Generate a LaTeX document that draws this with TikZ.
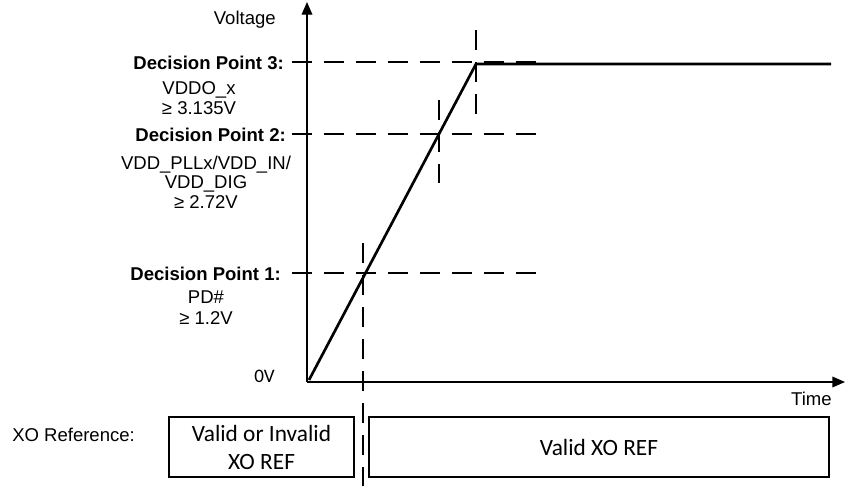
\documentclass[tikz,border=0pt]{standalone}
\usepackage{fontspec}
\setmainfont{Liberation Sans}
\newfontfamily\carlito{Carlito}
\usepackage{tikz}
\usetikzlibrary{arrows.meta}

\begin{document}
\begin{tikzpicture}[x=0.75pt,y=-0.75pt,line cap=butt,
	axis/.style={line width=1pt,-{Triangle[length=9.5pt,width=8pt]}},
	ramp/.style={line width=2pt,line join=miter},
	guide/.style={line width=2pt,dash pattern=on 15pt off 9pt},
	refbox/.style={draw,line width=1.5pt,minimum height=45pt,align=center,font=\carlito\fontsize{17.5pt}{21pt}\selectfont},
	dptitle/.style={anchor=east,inner sep=0pt,font=\bfseries\fontsize{13.9pt}{14pt}\selectfont},
	dptext/.style={align=center,inner sep=0pt,font=\fontsize{13.9pt}{14.6pt}\selectfont},
	plain/.style={inner sep=0pt,font=\fontsize{13.9pt}{14pt}\selectfont}]
	\useasboundingbox (0,0) rectangle (846,486);
	% axes
	\coordinate (o) at (307,382);
	\coordinate (vtop) at (307,2);
	\coordinate (tend) at (845,382);
	\draw[axis] (o) -- (vtop);
	\draw[axis] (o) -- (tend);
	\node[plain,anchor=base east] (volt) at (276,24) {Voltage};
	\node[plain,anchor=base east] (time) at (832,405) {Time};
	\node[plain,anchor=base east,font=\carlito\fontsize{14.3pt}{15pt}\selectfont] (zero) at (275,382) {0V};
	% supply ramp
	\coordinate (r0) at (309,380);
	\coordinate (r1) at (476,64);
	\coordinate (r2) at (831,64);
	\draw[ramp] (r0) -- (r1) -- (r2);
	% decision point guides
	\foreach \k/\y/\xv/\ya/\yb in {1/273/363/243/486,2/134/439/100/183,3/62/476/30/115} {
		\coordinate (hl\k) at (292,\y);
		\coordinate (hr\k) at (537,\y);
		\coordinate (vt\k) at (\xv,\ya);
		\coordinate (vb\k) at (\xv,\yb);
		\draw[guide] (hl\k) -- (hr\k);
		\draw[guide] (vt\k) -- (vb\k);
	}
	\node[dptitle] (dp3) at (284,63) {Decision Point 3:};
	\node[dptext] (dp3v) at (199,98) {VDDO\_x\\≥ 3.135V};
	\node[dptitle] (dp2) at (286,135) {Decision Point 2:};
	\node[dptext] (dp2v) at (206,182) {VDD\_PLLx/VDD\_IN/\\VDD\_DIG\\≥ 2.72V};
	\node[dptitle] (dp1) at (281,274) {Decision Point 1:};
	\node[dptext] (dp1v) at (206,308) {PD\#\\[1pt]≥ 1.2V};
	% reference clock state
	\node[plain,anchor=base west] (xoref) at (12,441) {XO Reference:};
	\node[refbox,minimum width=138.75pt] (xo1) at (261.5,447) {Valid or Invalid\\XO REF};
	\node[refbox,minimum width=345pt] (xo2) at (599,447) {Valid XO REF};
\end{tikzpicture}
\end{document}
